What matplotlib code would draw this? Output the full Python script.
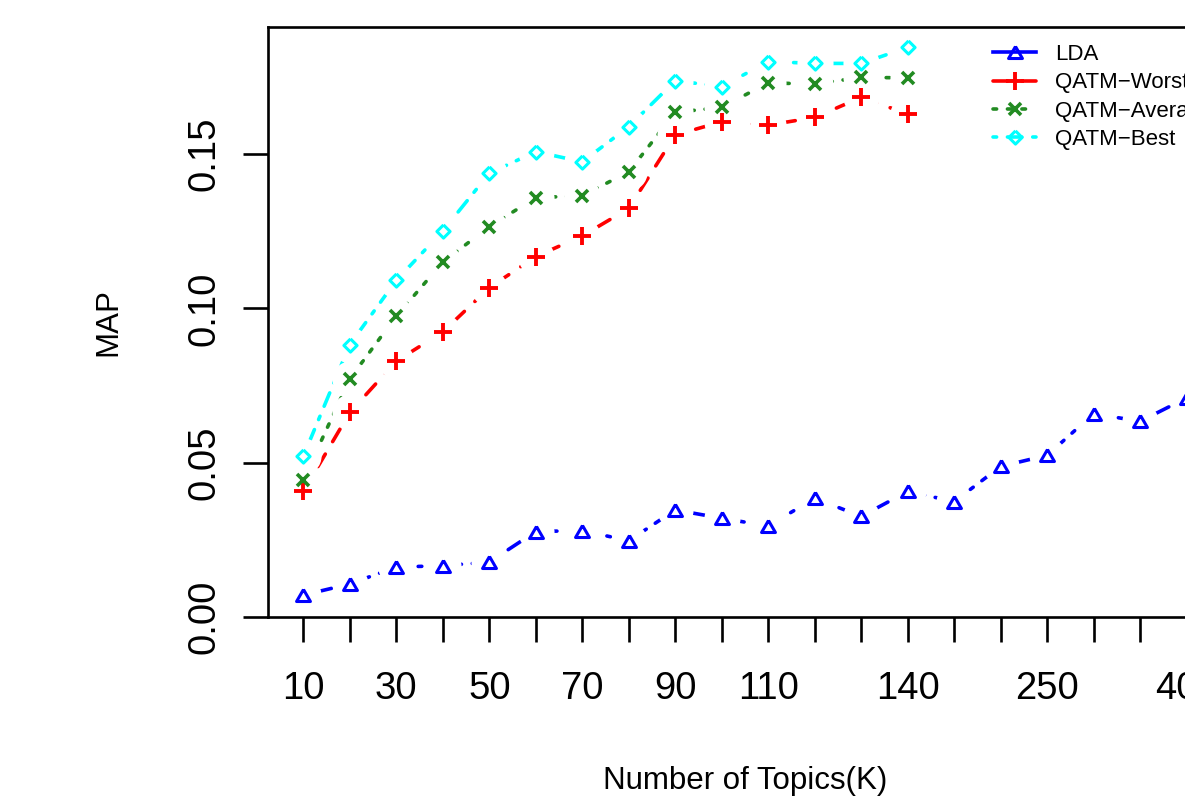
import matplotlib
matplotlib.use('Agg')
import matplotlib.pyplot as plt
from matplotlib.lines import Line2D

plt.rcParams['font.family'] = ['Liberation Sans', 'DejaVu Sans']

# Number of topics on the x axis (evenly spaced categories)
topics = [10, 20, 30, 40, 50, 60, 70, 80, 90, 100, 110, 120, 130, 140,
          150, 200, 250, 300, 350, 400]
# labels that are actually printed under the axis
shown_labels = [10, 30, 50, 70, 90, 110, 140, 250, 400]

lda = [0.0071, 0.0107, 0.0162, 0.0166, 0.0178, 0.0277, 0.0280, 0.0247,
       0.0347, 0.0320, 0.0295, 0.0385, 0.0326, 0.0407, 0.0374, 0.0488,
       0.0524, 0.0659, 0.0634, 0.0710]
qatm_worst = [0.0407, 0.0663, 0.0829, 0.0924, 0.1067, 0.1168, 0.1235,
              0.1324, 0.1562, 0.1605, 0.1594, 0.1619, 0.1684, 0.1630]
qatm_average = [0.0445, 0.0772, 0.0975, 0.1150, 0.1265, 0.1359, 0.1365,
                0.1443, 0.1635, 0.1652, 0.1731, 0.1727, 0.1749, 0.1747]
qatm_best = [0.0521, 0.0883, 0.1091, 0.1251, 0.1438, 0.1508, 0.1475,
             0.1589, 0.1738, 0.1719, 0.1800, 0.1794, 0.1794, 0.1846]

# R-like open markers
tri = [(0, 0.433), (-0.5, -0.433), (0.5, -0.433), (0, 0.433)]
diamond = [(0, 1), (1, 0), (0, -1), (-1, 0), (0, 1)]

series = [
    ('LDA', lda, 'blue', (0, (1, 3, 4, 3)), tri, 10, 2.2, '-'),
    ('QATM\u2212Worst', qatm_worst, 'red', (0, (4, 4)), '+', 12.5, 2.8, (0, (4, 4))),
    ('QATM\u2212Average', qatm_average, 'forestgreen', (0, (1, 3)), 'x', 8.5, 2.6, (0, (1, 3))),
    ('QATM\u2212Best', qatm_best, 'cyan', (0, (1, 3, 4, 3)), diamond, 9.5, 2.2, (0, (1, 3, 4, 3))),
]

fig = plt.figure(figsize=(11.85, 8.1), dpi=100)
# axes extend past the right edge, the reference is cropped there
ax = fig.add_axes([268 / 1185, 1 - 617 / 810, 954 / 1185, 590 / 810])

handles = []
for name, vals, color, ls, marker, ms, mew, leg_ls in series:
    xs = list(range(len(vals)))
    ax.plot(xs, vals, color=color, lw=2.6, linestyle=ls,
            dash_capstyle='round', zorder=2)
    # white halo leaves a gap around each point like R's type="b"
    ax.plot(xs, vals, linestyle='none', marker='o', ms=26, mfc='white',
            mec='white', mew=0, zorder=3)
    ax.plot(xs, vals, linestyle='none', marker=marker, ms=ms, mew=mew,
            mec=color, mfc='none', zorder=4)
    handles.append(Line2D([], [], color=color, lw=2.6, linestyle=leg_ls,
                          dash_capstyle='round', marker=marker, ms=ms,
                          mew=mew, mec=color, mfc='none', label=name))

ax.set_xlim(-0.76, len(topics) - 1 + 0.76)
ax.set_ylim(0, 0.1912)

ax.set_xticks(range(len(topics)))
ax.set_xticklabels([str(t) if t in shown_labels else '' for t in topics])
ax.set_yticks([0, 0.05, 0.10, 0.15])
ax.set_yticklabels(['0.00', '0.05', '0.10', '0.15'])

for sp in ax.spines.values():
    sp.set_linewidth(1.9)
ax.tick_params(axis='both', length=18, width=1.9, labelsize=27.5)
ax.tick_params(axis='x', pad=21)
ax.tick_params(axis='y', pad=15, labelrotation=90)
for lab in ax.get_yticklabels():
    lab.set_va('center')

fig.text(108 / 1185, 1 - 322 / 810, 'MAP', rotation=90, fontsize=22.5,
         ha='center', va='center')
fig.text(745 / 1185, 1 - 781 / 810, 'Number of Topics(K)', fontsize=22.5,
         ha='center', va='center')

ax.legend(handles=handles, loc='upper left', frameon=False,
          bbox_to_anchor=(993 / 1185, 1 - 44 / 810),
          bbox_transform=fig.transFigure, fontsize=16,
          handlelength=1.95, handletextpad=0.85, labelspacing=0.33,
          borderpad=0, borderaxespad=0)

fig.savefig('out.png', dpi=100)
